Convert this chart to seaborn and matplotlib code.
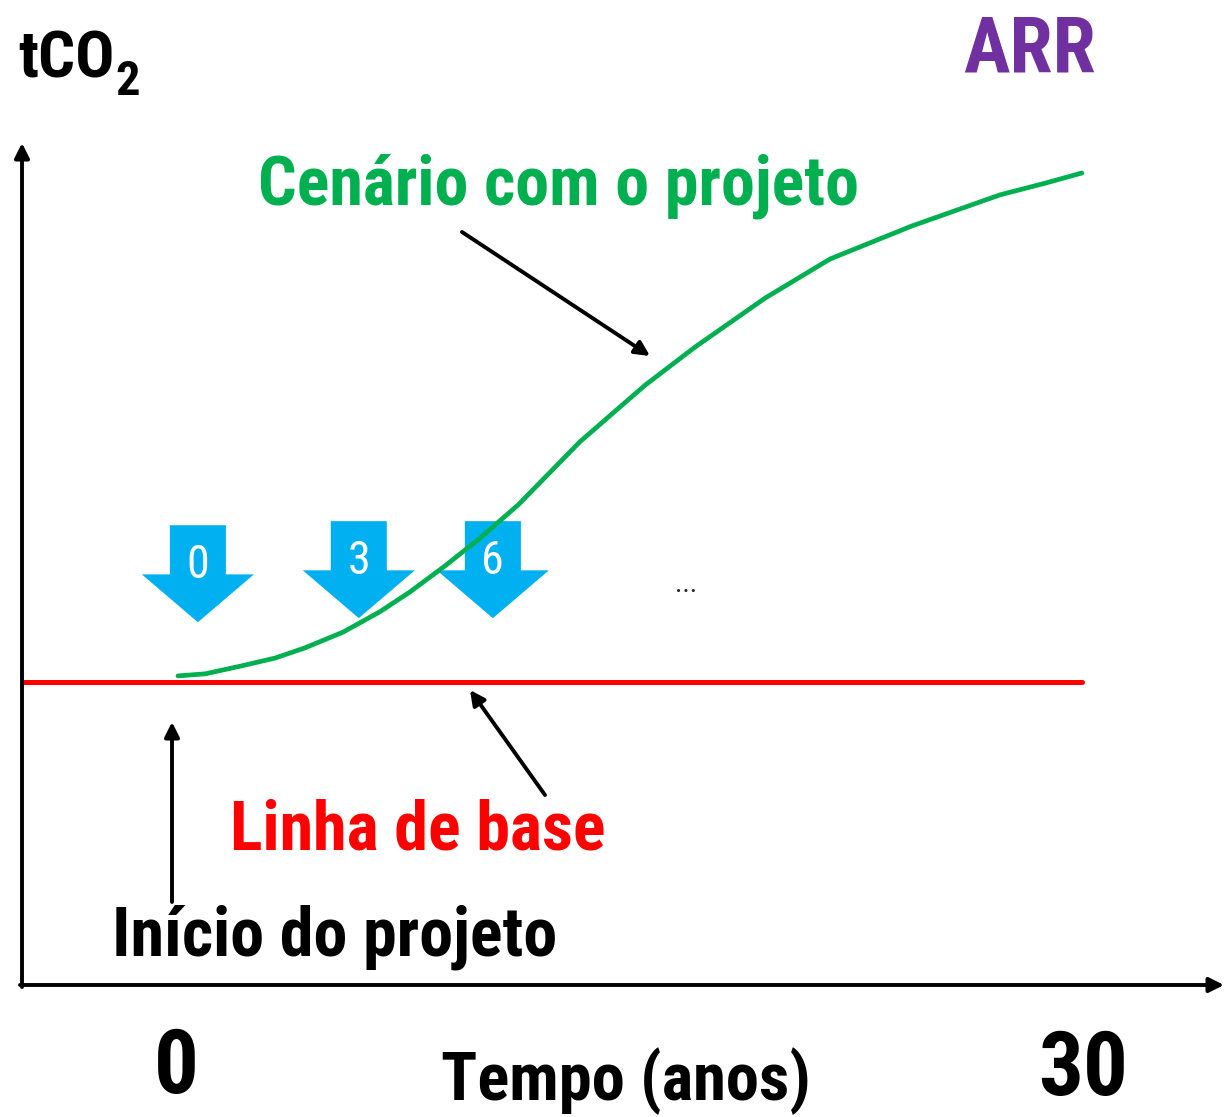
import matplotlib
matplotlib.use("Agg")
import matplotlib.pyplot as plt
import seaborn as sns
import pandas as pd

# data: project scenario (years, tCO2 in arbitrary units) and baseline
anos = [0, 0.9, 2.06, 3.22, 4.21, 5.48, 6.7, 7.7, 8.86, 10.03, 11.29,
        13.34, 15.5, 17.16, 19.48, 21.64, 24.36, 27.28, 28.78, 30]
tco2_projeto = [1.2, 1.6, 3.1, 4.7, 6.7, 9.8, 13.8, 17.7, 22.8, 28.3, 34.8,
                47.2, 58.3, 65.8, 75.4, 83.1, 89.6, 95.7, 98.0, 100.0]
anos_base = [-5.1, 30]
tco2_base = [0, 0]

# verification markers (blue arrows)
verif_labels = ["0", "3", "6"]
verif_x = [0.66, 6.0, 10.45]
verif_top = [30.8, 31.6, 31.6]

sns.set_theme(style="white")
plt.rcParams["font.family"] = ["Roboto Condensed", "DejaVu Sans"]

W, H = 1224, 1117
fig = plt.figure(figsize=(W / 100, H / 100), dpi=100)
ax = fig.add_axes([0, 0, 1, 1])

# pixel -> data mapping (x: 0 yr at 178 px, 30.13 px/yr; y: 0 at 682 px, 5.09 px/unit)
def px(x, y):
    return (x - 178) / 30.13, (682 - y) / 5.09

x0, y0 = px(0, H)
x1, y1 = px(W, 0)
ax.set_xlim(x0, x1)
ax.set_ylim(y0, y1)
ax.axis("off")

df = pd.DataFrame({"ano": anos, "tco2": tco2_projeto})
sns.lineplot(data=df, x="ano", y="tco2", color="#00B050", lw=3.4, ax=ax)
sns.lineplot(x=anos_base, y=tco2_base, color="#FF0000", lw=3.6, ax=ax)

# blue arrows
for lab, xc, top in zip(verif_labels, verif_x, verif_top):
    ax.arrow(xc, top, 0, -19.06, width=1.86, head_width=3.72, head_length=9.4,
             length_includes_head=True, color="#00B0F0", lw=0, zorder=1)
    ax.text(xc, top - 7.8, lab, color="white", fontsize=33, ha="center",
            va="center", zorder=1)

# axes with arrows
arr = dict(arrowstyle="-|>", color="black", lw=2.8, mutation_scale=22,
           shrinkA=0, shrinkB=0)
ax.annotate("", xy=px(22, 143), xytext=px(22, 987), arrowprops=arr)
ax.annotate("", xy=px(1224, 985), xytext=px(20, 985), arrowprops=arr)

# pointer arrows
ax.annotate("", xy=px(650, 356), xytext=px(462, 232), arrowprops=arr)
ax.annotate("", xy=px(470, 690), xytext=px(545, 795), arrowprops=arr)
ax.annotate("", xy=px(172, 722), xytext=px(172, 902), arrowprops=arr)

def txt(x, y, s, size, color="black", ha="left"):
    ax.text(*px(x, y), s, fontsize=size, color=color, ha=ha, va="baseline",
            fontweight="bold")

txt(18, 78, "tCO", 47)
txt(115, 95, "2", 35)
txt(963, 72, "ARR", 56, "#7030A0")
txt(258, 205, "Cenário com o projeto", 49, "#00B050")
txt(230, 850, "Linha de base", 49, "#FF0000")
txt(112, 955, "Início do projeto", 49)
txt(176, 1093, "0", 64, ha="center")
txt(1083, 1095, "30", 64, ha="center")
txt(626, 1100, "Tempo (anos)", 48, ha="center")
ax.text(*px(686, 592), "...", fontsize=20, ha="center", va="baseline")

fig.savefig("out.png", dpi=100)
